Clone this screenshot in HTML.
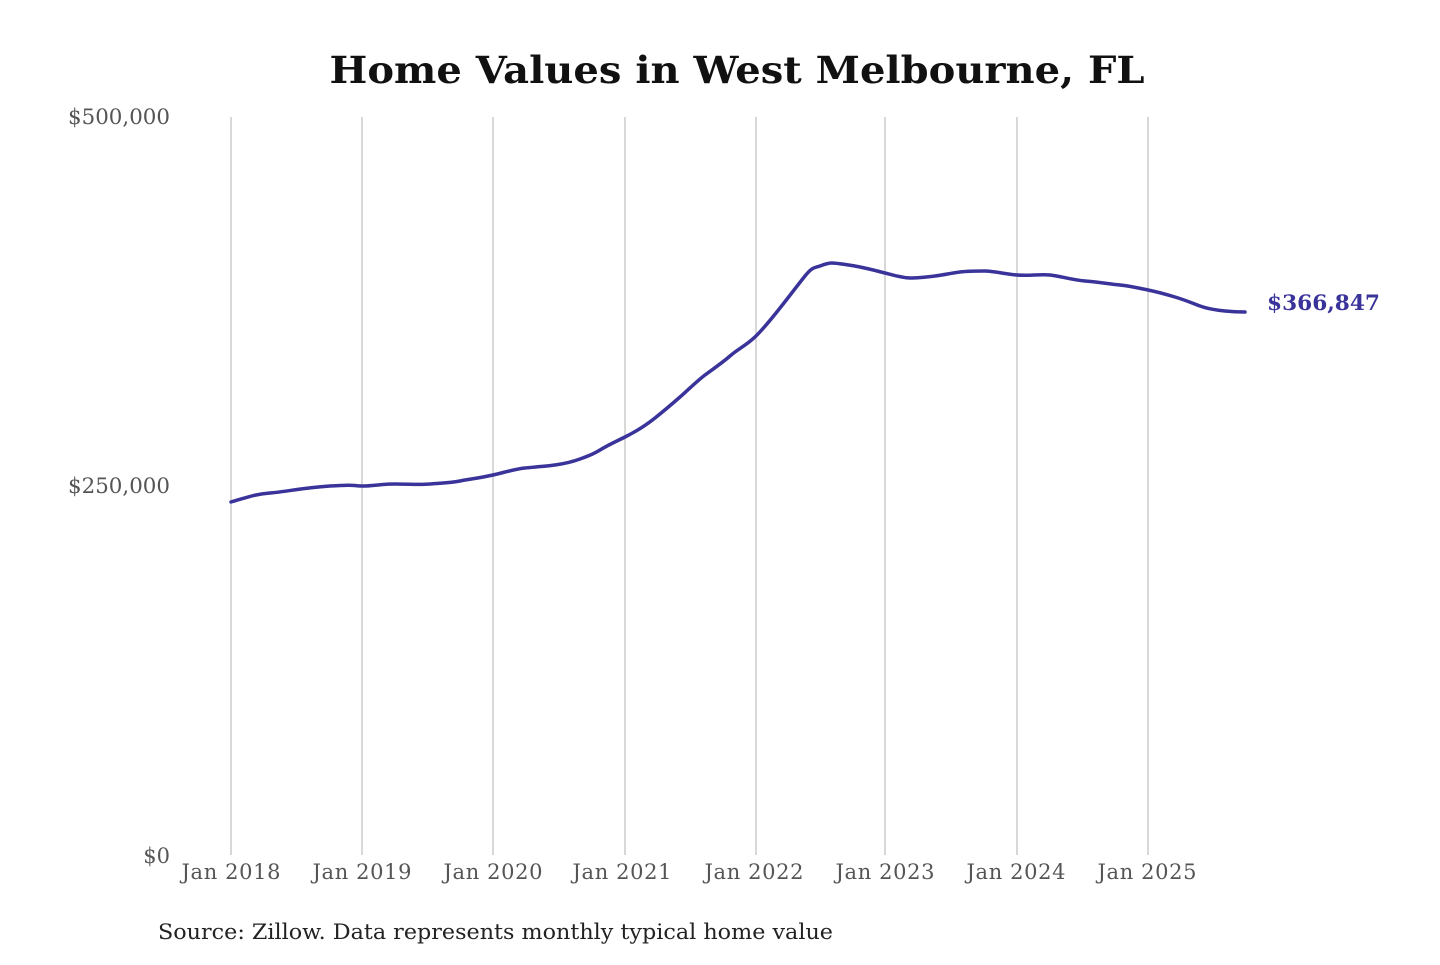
<!DOCTYPE html>
<html><head><meta charset="utf-8"><style>body{margin:0;background:#fff}</style></head>
<body>
<svg width="1440" height="960" xmlns="http://www.w3.org/2000/svg" font-family="DejaVu Serif, Liberation Serif, serif">
<text x="737" y="83" text-anchor="middle" font-size="37" font-weight="bold" fill="#111" textLength="815" lengthAdjust="spacingAndGlyphs">Home Values in West Melbourne, FL</text>
<g stroke="#c4c4c4" stroke-width="1.3">
<line x1="231" y1="117" x2="231" y2="855"/><line x1="362" y1="117" x2="362" y2="855"/>
<line x1="493" y1="117" x2="493" y2="855"/><line x1="625" y1="117" x2="625" y2="855"/>
<line x1="756" y1="117" x2="756" y2="855"/><line x1="885" y1="117" x2="885" y2="855"/>
<line x1="1017" y1="117" x2="1017" y2="855"/><line x1="1148" y1="117" x2="1148" y2="855"/>
</g>
<g font-size="21" fill="#555" text-anchor="end">
<text x="170" y="124" textLength="102" lengthAdjust="spacingAndGlyphs">$500,000</text><text x="170" y="493" textLength="102" lengthAdjust="spacingAndGlyphs">$250,000</text><text x="170" y="863">$0</text>
</g>
<g font-size="21" fill="#555" text-anchor="middle" lengthAdjust="spacingAndGlyphs">
<text x="231" y="879" textLength="99">Jan 2018</text><text x="362" y="879" textLength="99">Jan 2019</text><text x="493" y="879" textLength="99">Jan 2020</text>
<text x="622" y="879" textLength="99">Jan 2021</text><text x="754" y="879" textLength="99">Jan 2022</text><text x="885" y="879" textLength="99">Jan 2023</text>
<text x="1016" y="879" textLength="99">Jan 2024</text><text x="1147" y="879" textLength="99">Jan 2025</text>
</g>
<path fill="none" stroke="#3a339a" stroke-width="3.5" stroke-linejoin="round" stroke-linecap="round"
d="M231,502 C245,498 255,494 270,493 S300,488 330,486 S350,486 362,486 S380,484 395,484 S420,485 430,484 S450,483 460,481 S480,478 493,475 S515,469 525,468 S548,466 555,465 S572,462 580,459 S592,455 600,450 S615,442 625,437 S645,426 655,418 S672,404 680,397 S697,381 705,375 S722,363 730,356 S747,345 756,336 S772,318 780,308 S797,286 805,276 S815,268 820,266 S828,263 832,263 S850,265 860,267 S877,271 885,273 S902,278 910,278 S927,277 935,276 S952,273 960,272 S977,271 985,271 S1005,274 1017,275 S1040,274 1050,275 S1072,280 1085,281 S1110,284 1120,285 S1138,288 1148,290 S1165,294 1175,297 S1192,303 1200,306 S1215,310 1225,311 S1240,312 1245,312"/>
<text x="1267" y="310" font-size="21" font-weight="bold" fill="#3a339a" textLength="113" lengthAdjust="spacingAndGlyphs">$366,847</text>
<text x="158" y="939" font-size="21" fill="#222" textLength="675" lengthAdjust="spacingAndGlyphs">Source: Zillow. Data represents monthly typical home value</text>
</svg>
</body></html>
